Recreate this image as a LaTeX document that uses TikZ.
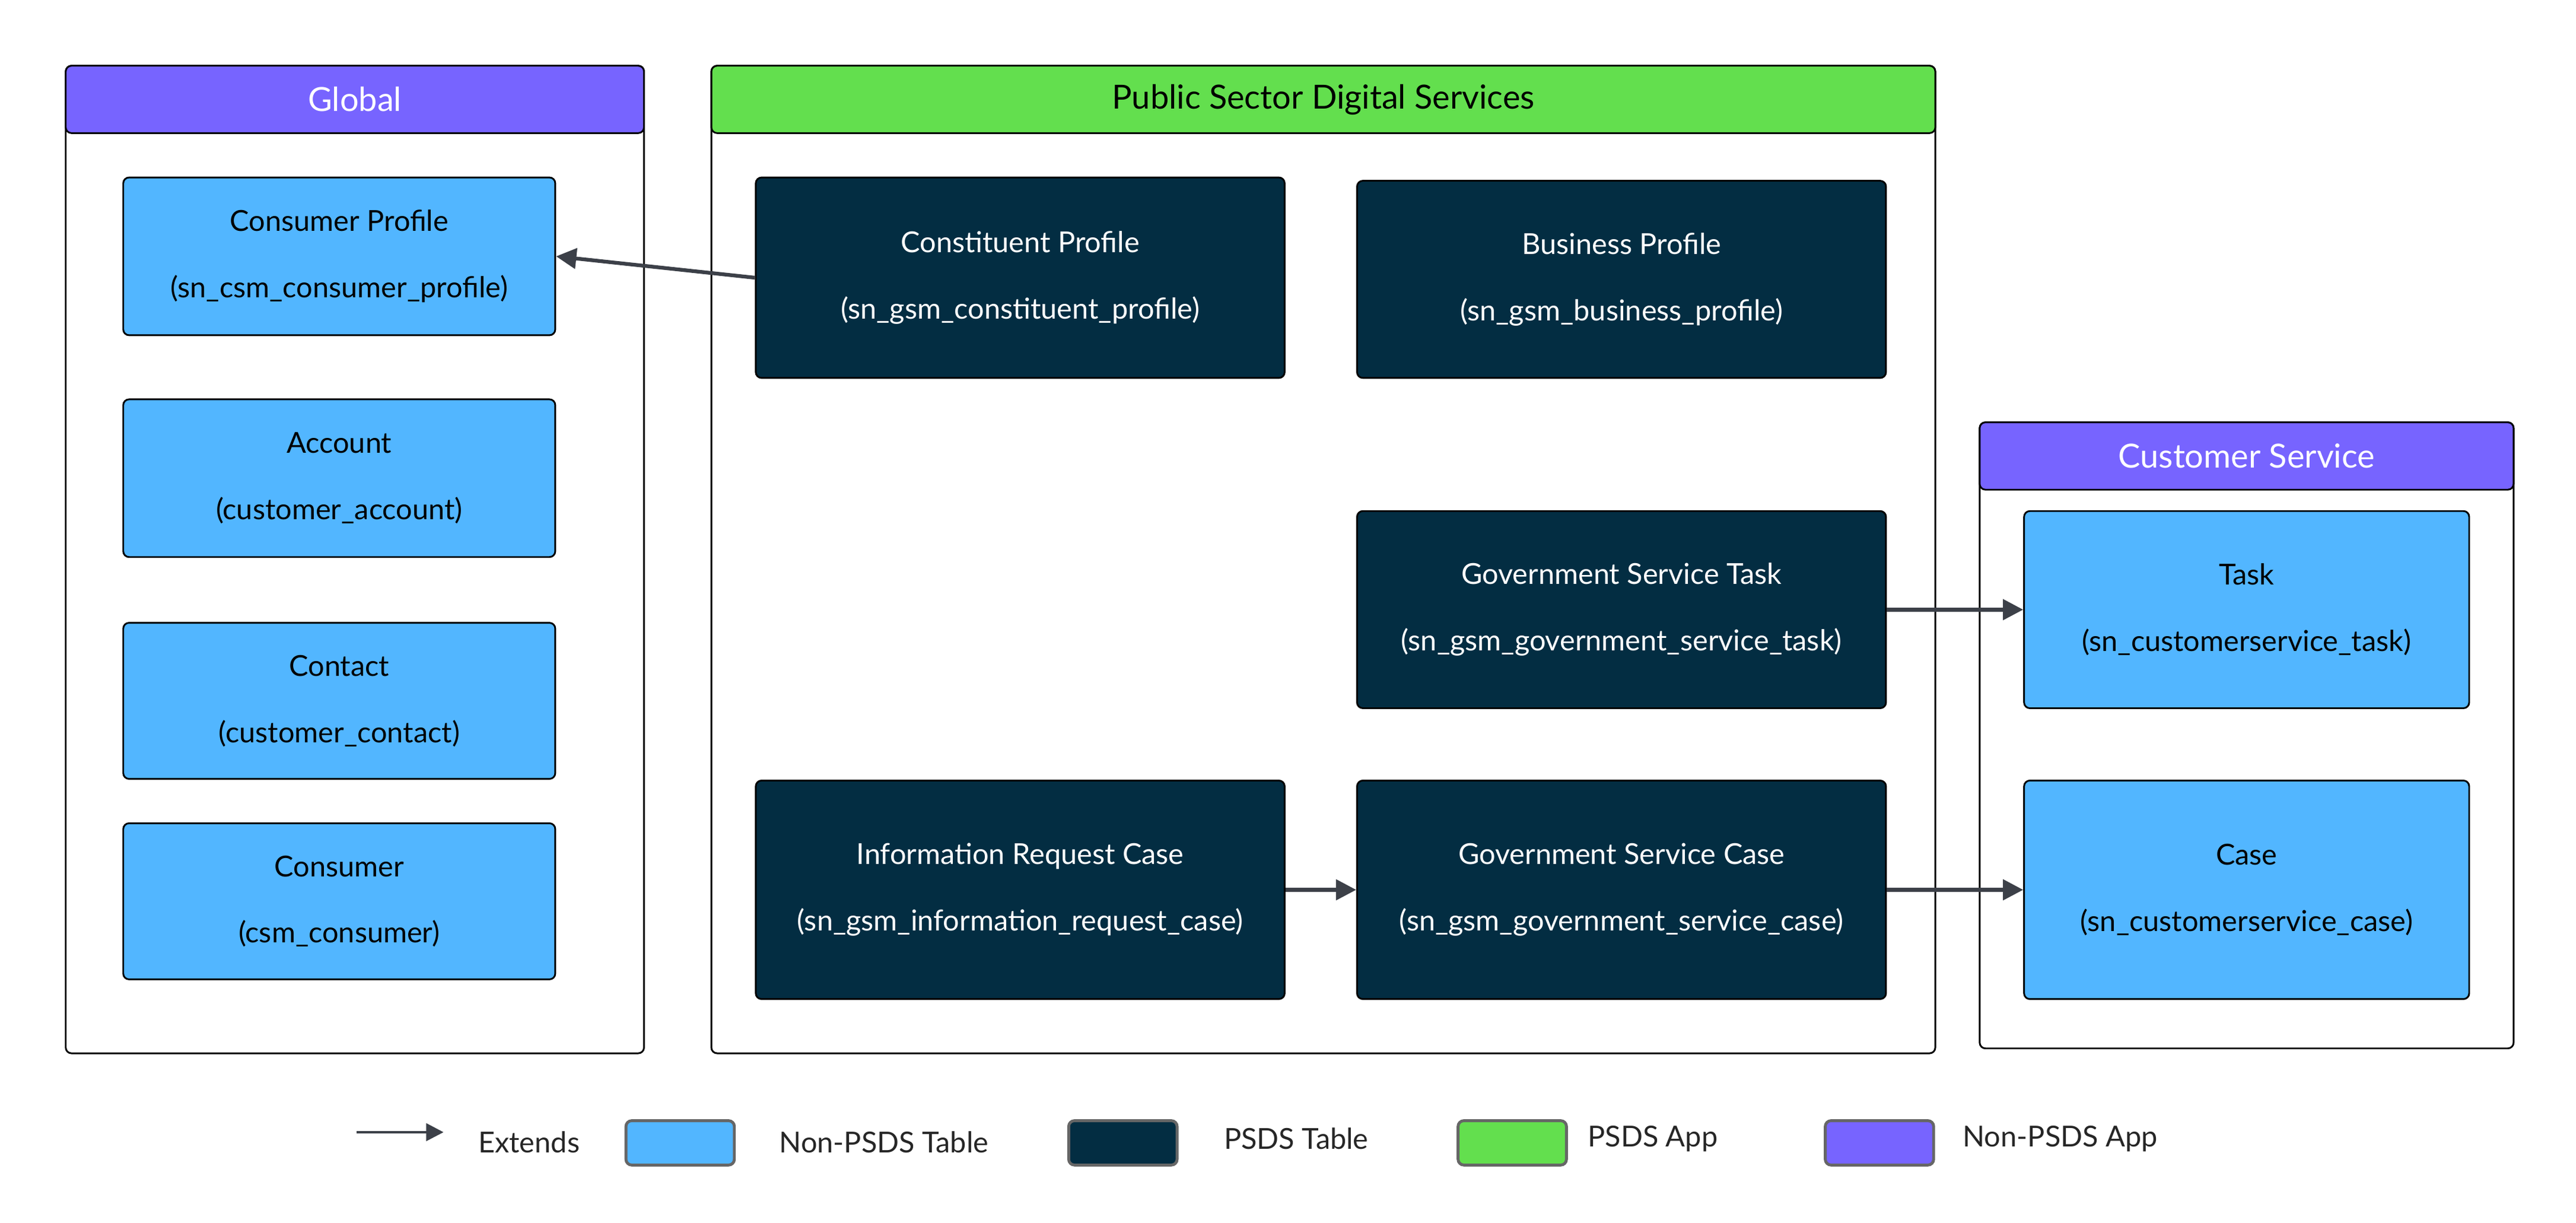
\documentclass[tikz,border=0pt]{standalone}
\usepackage{fontspec}
\setmainfont{Lato}
\usetikzlibrary{arrows.meta}
\definecolor{lb}{HTML}{52B6FF}
\definecolor{dk}{HTML}{032D42}
\definecolor{gr}{HTML}{63DF4E}
\definecolor{pu}{HTML}{7764FF}
\definecolor{ar}{HTML}{3C4048}
\begin{document}
\begin{tikzpicture}[x=0.02cm,y=-0.02cm,
  frame/.style={draw=black,line width=0.6pt,rounded corners=2pt},
  tbl/.style={draw=black,line width=0.6pt,rounded corners=2pt,align=center,font=\fontsize{10}{23}\selectfont},
  ltbl/.style={tbl,fill=lb,text=black},
  dtbl/.style={tbl,fill=dk,text=white},
  ext/.style={draw=ar,line width=1.3pt,-{Triangle[length=7pt,width=7pt]}},
  sw/.style={draw=black!60,line width=1pt,rounded corners=2pt,minimum width=1.32cm,minimum height=0.54cm},
  lg/.style={font=\fontsize{10}{12}\selectfont,text=black!85}]
\useasboundingbox (0,0) rectangle (1568,744);
% frames
\draw[frame] (40,40) rectangle (392,641);
\draw[frame,fill=pu] (40,40) rectangle (392,81);
\node[text=white,font=\fontsize{11.5}{14}\selectfont] (hg) at (216,60.5) {Global};
\draw[frame] (433,40) rectangle (1178,641);
\draw[frame,fill=gr] (433,40) rectangle (1178,81);
\node[text=black,font=\fontsize{11.5}{14}\selectfont] (hp) at (805.5,60.5) {Public Sector Digital Services};
\draw[frame] (1205,257) rectangle (1530,638);
\draw[frame,fill=pu] (1205,257) rectangle (1530,298);
\node[text=white,font=\fontsize{11.5}{14}\selectfont] (hc) at (1367.5,277.5) {Customer Service};
% left tables
\node[ltbl,minimum width=5.26cm,minimum height=1.92cm] (cp) at (206.5,156) {Consumer Profile\\(sn\_csm\_consumer\_profile)};
\node[ltbl,minimum width=5.26cm,minimum height=1.92cm] (acc) at (206.5,291) {Account\\(customer\_account)};
\node[ltbl,minimum width=5.26cm,minimum height=1.9cm] (con) at (206.5,426.5) {Contact\\(customer\_contact)};
\node[ltbl,minimum width=5.26cm,minimum height=1.9cm] (csm) at (206.5,548.5) {Consumer\\(csm\_consumer)};
% psds tables
\node[dtbl,minimum width=6.44cm,minimum height=2.44cm] (ctp) at (621,169) {Constituent Profile\\(sn\_gsm\_constituent\_profile)};
\node[dtbl,minimum width=6.44cm,minimum height=2.4cm] (bp) at (987,170) {Business Profile\\(sn\_gsm\_business\_profile)};
\node[dtbl,minimum width=6.44cm,minimum height=2.4cm] (gst) at (987,371) {Government Service Task\\(sn\_gsm\_government\_service\_task)};
\node[dtbl,minimum width=6.44cm,minimum height=2.66cm] (irc) at (621,541.5) {Information Request Case\\(sn\_gsm\_information\_request\_case)};
\node[dtbl,minimum width=6.44cm,minimum height=2.66cm] (gsc) at (987,541.5) {Government Service Case\\(sn\_gsm\_government\_service\_case)};
% cs tables
\node[ltbl,minimum width=5.42cm,minimum height=2.4cm] (tk) at (1367.5,371) {Task\\(sn\_customerservice\_task)};
\node[ltbl,minimum width=5.42cm,minimum height=2.66cm] (cs) at (1367.5,541.5) {Case\\(sn\_customerservice\_case)};
% arrows
\draw[ext] (ctp.west) -- (cp.east);
\draw[ext] (gst.east) -- (tk.west);
\draw[ext] (irc.east) -- (gsc.west);
\draw[ext] (gsc.east) -- (cs.west);
% legend
\coordinate (la) at (217,689);
\coordinate (lb) at (270,689);
\draw[draw=ar,line width=0.9pt,-{Triangle[length=6pt,width=6pt]}] (la) -- (lb);
\node[lg] (l1) at (322,695) {Extends};
\node[sw,fill=lb] (s1) at (414,695.5) {};
\node[lg] (l2) at (538,695) {Non-PSDS Table};
\node[sw,fill=dk] (s2) at (683.5,695.5) {};
\node[lg] (l3) at (789,693) {PSDS Table};
\node[sw,fill=gr] (s3) at (920.5,695.5) {};
\node[lg] (l4) at (1006,693) {PSDS App};
\node[sw,fill=pu] (s4) at (1144,695.5) {};
\node[lg] (l5) at (1254,693) {Non-PSDS App};
\end{tikzpicture}
\end{document}
